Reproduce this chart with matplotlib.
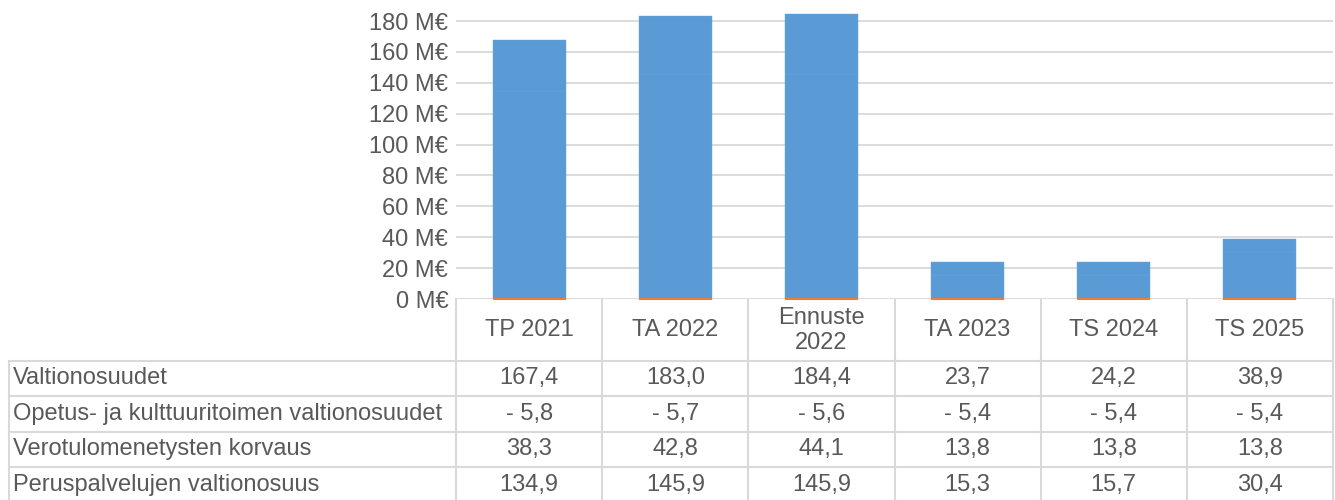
import matplotlib.pyplot as plt
import numpy as np

plt.rcParams['font.family'] = ['Liberation Sans', 'DejaVu Sans']

# 카테고리 / 계열 데이터
kaudet = ['TP 2021', 'TA 2022', 'Ennuste\n2022', 'TA 2023', 'TS 2024', 'TS 2025']
sarjat = ['Valtionosuudet', 'Opetus- ja kulttuuritoimen valtionosuudet',
          'Verotulomenetysten korvaus', 'Peruspalvelujen valtionosuus']
valtionosuudet = [167.4, 183.0, 184.4, 23.7, 24.2, 38.9]
opetus = [-5.8, -5.7, -5.6, -5.4, -5.4, -5.4]
verotulo = [38.3, 42.8, 44.1, 13.8, 13.8, 13.8]
peruspalvelut = [134.9, 145.9, 145.9, 15.3, 15.7, 30.4]
yticks = [0, 20, 40, 60, 80, 100, 120, 140, 160, 180]

W, H = 1335, 500
fig = plt.figure(figsize=(W / 100, H / 100), dpi=100)

teksti = '#595959'
viiva = '#d9d9d9'
sininen = '#5b9bd5'
oranssi = '#ed7d31'
fs = 17

# 그래프 영역 (픽셀 기준)
x0, x1 = 456, 1333
y_zero, y_top = 299, 21
ax = fig.add_axes([x0 / W, (H - y_zero) / H, (x1 - x0) / W, (y_zero - 8) / H])
n = len(kaudet)
x = np.arange(n)
ax.set_xlim(-0.5, n - 0.5)
ax.set_ylim(0, 180 * (y_zero - 8) / (y_zero - y_top))

pohja = np.array(peruspalvelut)
loput = np.array(valtionosuudet) - pohja
ax.bar(x, pohja, width=0.5, color=sininen, edgecolor='#68a3d9', linewidth=0.3, zorder=3)
ax.bar(x, loput, bottom=pohja, width=0.5, color=sininen, edgecolor='#68a3d9',
       linewidth=0.3, zorder=3)
ax.hlines([0] * n, x - 0.25, x + 0.25, color=oranssi, lw=1.5, zorder=4, clip_on=False)

ax.set_yticks(yticks)
ax.set_yticklabels([f'{v} M€' for v in yticks], fontsize=fs, color=teksti)
ax.tick_params(axis='y', length=0, pad=5.5)
ax.set_xticks([])
ax.grid(axis='y', color=viiva, lw=1.3, zorder=0)
for s in ax.spines.values():
    s.set_visible(False)

# 데이터 테이블
tab = fig.add_axes([0, 0, 1, 1], zorder=-1)
tab.set_xlim(0, W)
tab.set_ylim(H, 0)
tab.axis('off')

col_w = (x1 - x0) / n
head_bottom = 360.5
row_h = 35.6
rivit = [valtionosuudet, opetus, verotulo, peruspalvelut]
y_rows = [head_bottom + i * row_h for i in range(len(rivit) + 1)]

for i in range(n + 1):
    xc = x0 + i * col_w
    tab.plot([xc, xc], [y_zero, H], color=viiva, lw=1.5)
tab.plot([9, 9], [head_bottom, H], color=viiva, lw=1.5)
for yr in y_rows:
    tab.plot([9, x1], [yr, yr], color=viiva, lw=1.5)

for i, k in enumerate(kaudet):
    tab.text(x0 + (i + 0.5) * col_w, (y_zero + head_bottom) / 2 + 0.5, k,
             ha='center', va='center', fontsize=fs, color=teksti, linespacing=1.15)

for r, (nimi, arvot) in enumerate(zip(sarjat, rivit)):
    yc = y_rows[r] + row_h / 2
    tab.text(13, yc, nimi, ha='left', va='center', fontsize=fs, color=teksti)
    for i, v in enumerate(arvot):
        s = f'{abs(v):.1f}'.replace('.', ',')
        if v < 0:
            s = '- ' + s
        tab.text(x0 + (i + 0.5) * col_w, yc, s, ha='center', va='center',
                 fontsize=fs, color=teksti)

fig.savefig('out.png', dpi=100)
